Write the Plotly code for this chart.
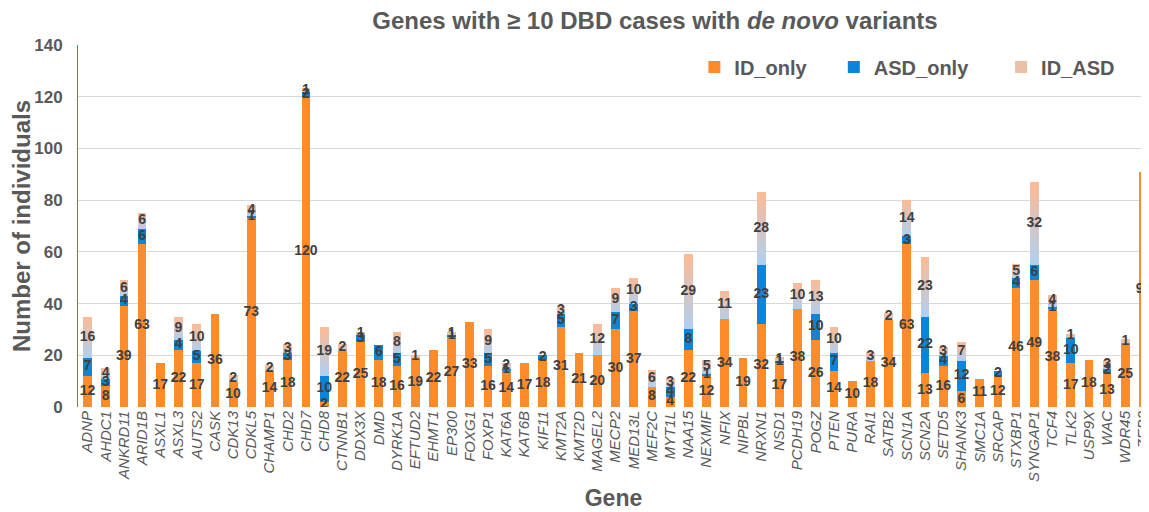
import plotly.graph_objects as go

genes = ["ADNP", "AHDC1", "ANKRD11", "ARID1B", "ASXL1", "ASXL3", "AUTS2", "CASK", "CDK13", "CDKL5",
         "CHAMP1", "CHD2", "CHD7", "CHD8", "CTNNB1", "DDX3X", "DMD", "DYRK1A", "EFTUD2", "EHMT1",
         "EP300", "FOXG1", "FOXP1", "KAT6A", "KAT6B", "KIF11", "KMT2A", "KMT2D", "MAGEL2", "MECP2",
         "MED13L", "MEF2C", "MYT1L", "NAA15", "NEXMIF", "NFIX", "NIPBL", "NRXN1", "NSD1", "PCDH19",
         "POGZ", "PTEN", "PURA", "RAI1", "SATB2", "SCN1A", "SCN2A", "SETD5", "SHANK3", "SMC1A",
         "SRCAP", "STXBP1", "SYNGAP1", "TCF4", "TLK2", "USP9X", "WAC", "WDR45", "ZEB2"]

id_only = [12, 8, 39, 63, 17, 22, 17, 36, 10, 73,
           14, 18, 120, 2, 22, 25, 18, 16, 19, 22,
           27, 33, 16, 14, 17, 18, 31, 21, 20, 30,
           37, 8, 4, 22, 12, 34, 19, 32, 17, 38,
           26, 14, 10, 18, 34, 63, 13, 16, 6, 11,
           12, 46, 49, 38, 17, 18, 13, 25, 91]

asd_only = [7, 3, 4, 6, 0, 4, 5, 0, 0, 1,
            0, 3, 2, 10, 0, 3, 6, 5, 0, 0,
            1, 0, 5, 1, 0, 2, 5, 0, 0, 7,
            3, 0, 4, 8, 1, 0, 0, 23, 1, 0,
            10, 7, 0, 0, 0, 3, 22, 4, 12, 0,
            2, 4, 6, 1, 10, 0, 2, 0, 0]

id_asd = [16, 4, 6, 6, 0, 9, 10, 0, 2, 4,
          2, 3, 1, 19, 2, 1, 0, 8, 1, 0,
          1, 0, 9, 2, 0, 0, 3, 0, 12, 9,
          10, 6, 3, 29, 5, 11, 0, 28, 1, 10,
          13, 10, 0, 3, 2, 14, 23, 3, 7, 0,
          0, 5, 32, 4, 1, 0, 3, 1, 0]

series_names = ["ID_only", "ASD_only", "ID_ASD"]

ORANGE = "#FF8C2A"
BLUE = "#0C84D8"
GRAD_BOTTOM = (178, 207, 238)
GRAD_TOP = (251, 187, 150)
N_GRAD = 14
TXT = "#404040"
GRAY = "#595959"
FONT = "Liberation Sans"
NB = "\u00a0"

# the page body has an 8px margin, so the figure is drawn 8px smaller and everything shifted
W, H = 1141, 504

fig = go.Figure()
fig.add_trace(go.Bar(x=genes, y=id_only, name=series_names[0] + NB * 4,
                     marker=dict(color=ORANGE, line=dict(width=0)), legendrank=1))
fig.add_trace(go.Bar(x=genes, y=asd_only, name=series_names[1] + NB * 5,
                     marker=dict(color=BLUE, line=dict(width=0)), legendrank=2))

# ID_ASD drawn as a vertical gradient (light blue -> peach) made of equal slices of each bar
for k in range(N_GRAD):
    t = k / (N_GRAD - 1)
    c = tuple(round(GRAD_BOTTOM[i] + (GRAD_TOP[i] - GRAD_BOTTOM[i]) * t) for i in range(3))
    fig.add_trace(go.Bar(
        x=genes, y=[v / N_GRAD for v in id_asd], name=series_names[2],
        marker=dict(color="rgb(%d,%d,%d)" % c, line=dict(width=0)),
        legendgroup="idasd", showlegend=(k == N_GRAD // 2 + 3), legendrank=3,
        hoverinfo="skip"))

# data labels centred on each segment
lab_x, lab_y, lab_t = [], [], []
for g, a, b, c in zip(genes, id_only, asd_only, id_asd):
    for base, v in ((0, a), (a, b), (a + b, c)):
        if v > 0:
            lab_x.append(g)
            lab_y.append(base + v / 2)
            lab_t.append(str(v))
fig.add_trace(go.Scatter(x=lab_x, y=lab_y, text=lab_t, mode="text", showlegend=False,
                         textfont=dict(family=FONT, size=14, color=TXT, weight="bold"),
                         hoverinfo="skip", cliponaxis=True))

fig.update_layout(
    barmode="stack",
    bargap=0.52,
    width=W, height=H,
    margin=dict(l=70, r=0, t=37, b=105, autoexpand=False),
    paper_bgcolor="white", plot_bgcolor="white",
    font=dict(family=FONT, color=GRAY),
    title=dict(text="Genes with ≥ 10 DBD cases with <i>de novo</i> variants",
               x=647 / W, xanchor="center", xref="container",
               y=1 - 13 / H, yanchor="middle", yref="container",
               font=dict(family=FONT, size=24, color=GRAY, weight="bold")),
    legend=dict(orientation="h", x=0.5755, xanchor="left", y=1 - 22 / 362, yanchor="middle",
                font=dict(family=FONT, size=20, color=GRAY, weight="bold"), bgcolor="rgba(0,0,0,0)",
                traceorder="normal"),
    xaxis=dict(range=[-0.52, 58.3], tickangle=-90, showgrid=False, automargin=False,
               tickfont=dict(family=FONT, size=15, color=GRAY, style="italic"),
               showline=False, ticks="",
               title=dict(text="Gene", standoff=9, font=dict(family=FONT, size=23, color=GRAY, weight="bold"))),
    yaxis=dict(range=[0, 140], dtick=20, showgrid=True, gridcolor="#D9D9D9", gridwidth=1,
               zeroline=False, showline=True, linecolor="#3FA34D", linewidth=1, ticks="",
               ticklabelstandoff=11, automargin=False,
               tickfont=dict(family=FONT, size=17, color=GRAY, weight="bold"),
               title=dict(text="Number of individuals", standoff=14,
                          font=dict(family=FONT, size=24, color=GRAY, weight="bold"))),
)

fig.write_html("out.html")
